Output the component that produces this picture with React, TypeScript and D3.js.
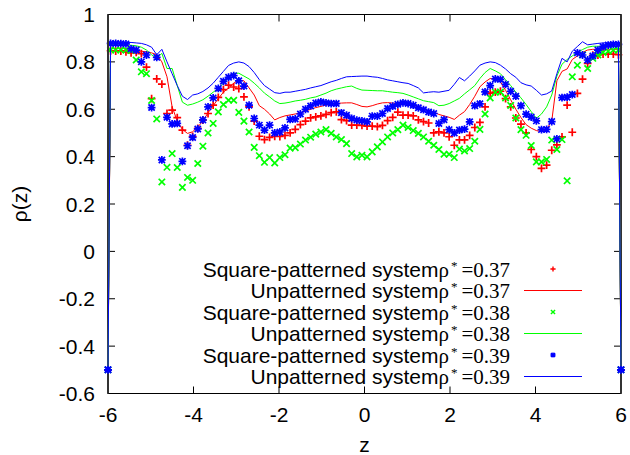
import React from 'react';
import * as d3 from 'd3';

// bin grid: centres at -5.94 + 0.12*i (100 bins), plus edge rows at z = -6 and z = 6
const Z_START = -5.94;
const Z_STEP = 0.12;
const EDGE_Z = [-6, 6];
const EDGE_RHO = -0.5;

// Square-patterned system rho*=0.37 (red +)
const sq037 = [
  0.847, 0.845, 0.845, 0.842, 0.838, 0.84, 0.835, 0.778, 0.645, 0.728,
  0.706, 0.582, 0.596, 0.565, 0.512, 0.448, 0.485, 0.519, 0.554, 0.582,
  0.617, 0.65, 0.683, 0.702, 0.694, 0.687, 0.652, 0.61, 0.55, 0.486,
  0.472, 0.481, 0.486, 0.485, 0.49, 0.5, 0.515, 0.535, 0.55, 0.564,
  0.568, 0.572, 0.578, 0.586, 0.589, 0.556, 0.552, 0.533, 0.533, 0.532,
  0.529, 0.529, 0.527, 0.532, 0.552, 0.566, 0.588, 0.575, 0.575, 0.572,
  0.555, 0.548, 0.542, 0.5, 0.505, 0.5, 0.484, 0.448, 0.471, 0.471,
  0.49, 0.523, 0.545, 0.61, 0.668, 0.672, 0.676, 0.645, 0.61, 0.563,
  0.537, 0.5, 0.43, 0.4, 0.35, 0.364, 0.427, 0.45, 0.483, 0.617,
  0.503, 0.667, 0.727, 0.794, 0.828, 0.829, 0.833, 0.833, 0.833, 0.83,
];

// Unpatterned system rho*=0.37 (red line)
const un037 = [
  0.848, 0.848, 0.848, 0.848, 0.848, 0.846, 0.845, 0.842, 0.838, 0.83,
  0.8, 0.737, 0.61, 0.55, 0.515, 0.498, 0.505, 0.525, 0.55, 0.585,
  0.615, 0.645, 0.672, 0.69, 0.71, 0.723, 0.72, 0.69, 0.66, 0.615,
  0.6, 0.58, 0.555, 0.565, 0.572, 0.576, 0.58, 0.585, 0.592, 0.6,
  0.607, 0.612, 0.618, 0.622, 0.624, 0.626, 0.627, 0.627, 0.62, 0.612,
  0.61, 0.615, 0.622, 0.627, 0.628, 0.626, 0.625, 0.624, 0.622, 0.616,
  0.61, 0.6, 0.594, 0.589, 0.578, 0.572, 0.566, 0.557, 0.575, 0.59,
  0.62, 0.655, 0.695, 0.715, 0.73, 0.725, 0.716, 0.68, 0.64, 0.6,
  0.565, 0.535, 0.52, 0.51, 0.505, 0.515, 0.55, 0.72, 0.76, 0.77,
  0.81, 0.825, 0.84, 0.85, 0.853, 0.853, 0.853, 0.853, 0.853, 0.853,
];

// Square-patterned system rho*=0.38 (green x)
const sq038 = [
  0.85, 0.85, 0.85, 0.85, 0.848, 0.808, 0.758, 0.75, 0.637, 0.559,
  0.293, 0.355, 0.413, 0.354, 0.27, 0.312, 0.3, 0.371, 0.444, 0.5,
  0.54, 0.589, 0.62, 0.638, 0.638, 0.587, 0.55, 0.504, 0.439, 0.404,
  0.376, 0.396, 0.373, 0.396, 0.408, 0.436, 0.438, 0.453, 0.47, 0.482,
  0.495, 0.504, 0.514, 0.498, 0.483, 0.472, 0.455, 0.413, 0.399, 0.406,
  0.399, 0.42, 0.441, 0.462, 0.483, 0.5, 0.514, 0.533, 0.523, 0.51,
  0.498, 0.483, 0.465, 0.448, 0.43, 0.41, 0.41, 0.396, 0.432, 0.424,
  0.434, 0.465, 0.515, 0.58, 0.648, 0.672, 0.673, 0.648, 0.616, 0.563,
  0.514, 0.49, 0.447, 0.378, 0.378, 0.388, 0.47, 0.43, 0.472, 0.298,
  0.737, 0.786, 0.83, 0.772, 0.815, 0.829, 0.84, 0.845, 0.85, 0.85,
];

// Unpatterned system rho*=0.38 (green line)
const un038 = [
  0.872, 0.872, 0.872, 0.872, 0.87, 0.868, 0.862, 0.85, 0.83, 0.815,
  0.836, 0.772, 0.772, 0.7, 0.63, 0.617, 0.622, 0.63, 0.64, 0.655,
  0.672, 0.688, 0.71, 0.735, 0.752, 0.752, 0.74, 0.728, 0.71, 0.69,
  0.668, 0.652, 0.635, 0.624, 0.626, 0.63, 0.635, 0.638, 0.642, 0.648,
  0.652, 0.66, 0.668, 0.678, 0.685, 0.69, 0.695, 0.698, 0.688, 0.681,
  0.68, 0.679, 0.678, 0.678, 0.675, 0.672, 0.67, 0.667, 0.66, 0.652,
  0.644, 0.636, 0.632, 0.628, 0.615, 0.617, 0.624, 0.635, 0.646, 0.665,
  0.682, 0.7, 0.73, 0.755, 0.772, 0.762, 0.75, 0.725, 0.7, 0.672,
  0.648, 0.62, 0.59, 0.562, 0.58, 0.61, 0.66, 0.74, 0.79, 0.81,
  0.825, 0.84, 0.852, 0.862, 0.866, 0.866, 0.866, 0.866, 0.865, 0.864,
];

// Square-patterned system rho*=0.39 (blue *)
const sq039 = [
  0.878, 0.878, 0.877, 0.876, 0.855, 0.85, 0.8, 0.829, 0.607, 0.819,
  0.386, 0.566, 0.538, 0.54, 0.38, 0.446, 0.481, 0.517, 0.555, 0.61,
  0.648, 0.688, 0.718, 0.735, 0.742, 0.72, 0.698, 0.617, 0.561, 0.533,
  0.512, 0.533, 0.5, 0.504, 0.521, 0.557, 0.559, 0.58, 0.6, 0.614,
  0.626, 0.631, 0.627, 0.624, 0.624, 0.585, 0.575, 0.561, 0.554, 0.551,
  0.547, 0.571, 0.571, 0.582, 0.603, 0.613, 0.621, 0.627, 0.624, 0.617,
  0.606, 0.598, 0.588, 0.582, 0.54, 0.556, 0.514, 0.5, 0.512, 0.516,
  0.547, 0.615, 0.623, 0.673, 0.7, 0.728, 0.726, 0.705, 0.676, 0.655,
  0.615, 0.579, 0.567, 0.551, 0.514, 0.515, 0.548, 0.475, 0.649, 0.651,
  0.662, 0.838, 0.829, 0.808, 0.825, 0.85, 0.864, 0.871, 0.874, 0.874,
];

// Unpatterned system rho*=0.39 (blue line)
const un039 = [
  0.878, 0.88, 0.88, 0.882, 0.882, 0.88, 0.878, 0.872, 0.862, 0.83,
  0.853, 0.8, 0.75, 0.7, 0.655, 0.641, 0.66, 0.665, 0.675, 0.69,
  0.71, 0.735, 0.76, 0.785, 0.795, 0.8, 0.795, 0.78, 0.755, 0.725,
  0.7, 0.685, 0.67, 0.667, 0.672, 0.672, 0.676, 0.68, 0.684, 0.69,
  0.695, 0.7, 0.708, 0.716, 0.722, 0.73, 0.737, 0.738, 0.739, 0.74,
  0.74, 0.737, 0.735, 0.73, 0.724, 0.72, 0.716, 0.712, 0.709, 0.7,
  0.69, 0.669, 0.672, 0.674, 0.672, 0.676, 0.68, 0.705, 0.734, 0.72,
  0.74, 0.762, 0.786, 0.795, 0.8, 0.797, 0.786, 0.77, 0.75, 0.735,
  0.712, 0.703, 0.698, 0.68, 0.66, 0.665, 0.677, 0.75, 0.815, 0.8,
  0.845, 0.865, 0.885, 0.872, 0.875, 0.878, 0.88, 0.88, 0.88, 0.878,
];

const X_TICKS = [-6, -4, -2, 0, 2, 4, 6];
const X_TICK_LABELS = ['-6', '-4', '-2', '0', '2', '4', '6'];
const Y_TICKS = [-0.6, -0.4, -0.2, 0, 0.2, 0.4, 0.6, 0.8, 1];
const Y_TICK_LABELS = ['-0.6', '-0.4', '-0.2', '0', '0.2', '0.4', '0.6', '0.8', '1'];

const SERIES_NAMES = [
  'Square-patterned system', 'Unpatterned system',
  'Square-patterned system', 'Unpatterned system',
  'Square-patterned system', 'Unpatterned system',
];
const SERIES_RHO = ['=0.37', '=0.37', '=0.38', '=0.38', '=0.39', '=0.39'];
const SERIES_COLORS = ['#ff0000', '#ff0000', '#00ff00', '#00ff00', '#0000ff', '#0000ff'];
const SERIES_KIND = ['plus', 'line', 'cross', 'line', 'star', 'line'];
const SERIES_DATA = [sq037, un037, sq038, un038, sq039, un039];

const SANS = '"Liberation Sans", Arial, Helvetica, sans-serif';
const SERIF = '"Liberation Serif", "Times New Roman", serif';

function markerPath(kind: string, s: number): string {
  const plus = `M${-s},0H${s}M0,${-s}V${s}`;
  const c = s * 0.8;
  const cross = `M${-c},${-c}L${c},${c}M${-c},${c}L${c},${-c}`;
  if (kind === 'plus') return plus;
  if (kind === 'cross') return cross;
  return plus + cross;
}

export default function App() {
  const W = 630;
  const H = 455;
  const L = 108;
  const R = 621;
  const T = 14.5;
  const B = 393.5;
  const x = d3.scaleLinear().domain([-6, 6]).range([L, R]);
  const y = d3.scaleLinear().domain([-0.6, 1]).range([B, T]);

  const toPts = (vals: number[]) => [
    { z: EDGE_Z[0], v: EDGE_RHO },
    ...vals.map((v, i) => ({ z: Z_START + Z_STEP * i, v })),
    { z: EDGE_Z[1], v: EDGE_RHO },
  ];
  const lineGen = d3
    .line<{ z: number; v: number }>()
    .x((d) => x(d.z))
    .y((d) => y(d.v));

  const tickLen = 7;
  const fs = 21;

  const legendRow0 = 269;
  const legendStep = 21.5;
  const legendTextX = 510;
  const sampleX0 = 524;
  const sampleX1 = 582;

  return (
    <svg
      width={W}
      height={H}
      viewBox={`0 0 ${W} ${H}`}
      style={{ position: 'absolute', left: 0, top: 0, background: '#fff' }}
    >
      <rect x={0} y={0} width={W} height={H} fill="#fff" />

      {/* ticks */}
      <g stroke="#000" strokeWidth={1}>
        {X_TICKS.map((t) => (
          <g key={'xt' + t}>
            <line x1={x(t)} x2={x(t)} y1={B} y2={B - tickLen} />
            <line x1={x(t)} x2={x(t)} y1={T} y2={T + tickLen} />
          </g>
        ))}
        {Y_TICKS.map((t) => (
          <g key={'yt' + t}>
            <line x1={L} x2={L + tickLen} y1={y(t)} y2={y(t)} />
            <line x1={R} x2={R - tickLen} y1={y(t)} y2={y(t)} />
          </g>
        ))}
      </g>

      {/* tick labels */}
      <g fontFamily={SANS} fontSize={fs} fill="#000">
        {X_TICKS.map((t, i) => (
          <text key={'xl' + t} x={x(t)} y={421.5} textAnchor="middle">
            {X_TICK_LABELS[i]}
          </text>
        ))}
        {Y_TICKS.map((t, i) => (
          <text key={'yl' + t} x={95} y={y(t) + 7.5} textAnchor="end">
            {Y_TICK_LABELS[i]}
          </text>
        ))}
        <text x={x(0)} y={452} textAnchor="middle">z</text>
        <text transform={`translate(27,${(T + B) / 2}) rotate(-90)`} textAnchor="middle">
          ρ(z)
        </text>
      </g>

      {/* data */}
      {SERIES_DATA.map((vals, si) => {
        const pts = toPts(vals);
        const color = SERIES_COLORS[si];
        const kind = SERIES_KIND[si];
        if (kind === 'line') {
          return (
            <path
              key={'s' + si}
              d={lineGen(pts) || ''}
              fill="none"
              stroke={color}
              strokeWidth={1}
            />
          );
        }
        const size = kind === 'cross' ? 4 : 3.9;
        const d = markerPath(kind, size);
        return (
          <g key={'s' + si} stroke={color} strokeWidth={1.7} fill="none">
            {pts.map((p, i) => (
              <path key={i} transform={`translate(${x(p.z)},${y(p.v)})`} d={d} />
            ))}
          </g>
        );
      })}

      {/* border */}
      <rect x={L} y={T} width={R - L} height={B - T} fill="none" stroke="#000" strokeWidth={1} />
      <line x1={L} x2={L} y1={T} y2={B} stroke="#333" strokeWidth={2} />
      <line x1={R} x2={R} y1={T} y2={B} stroke="#333" strokeWidth={2} />
      {/* redraw edge data over the border */}
      {SERIES_DATA.map((vals, si) => {
        if (SERIES_KIND[si] !== 'line') return null;
        const pts = toPts(vals);
        return (
          <g key={'e' + si} stroke={SERIES_COLORS[si]} strokeWidth={1} fill="none">
            <path d={lineGen(pts.slice(0, 2)) || ''} />
            <path d={lineGen(pts.slice(-2)) || ''} />
          </g>
        );
      })}
      {EDGE_Z.map((z) => (
        <path
          key={'edge' + z}
          transform={`translate(${x(z)},${y(EDGE_RHO)})`}
          d={markerPath('star', 3.9)}
          stroke="#0000ff"
          strokeWidth={1.7}
          fill="none"
        />
      ))}

      {/* legend */}
      {SERIES_NAMES.map((name, i) => {
        const cy = legendRow0 + legendStep * i;
        const color = SERIES_COLORS[i];
        const kind = SERIES_KIND[i];
        return (
          <g key={'lg' + i}>
            <text x={legendTextX} y={cy + 7.5} textAnchor="end" fontSize={fs} fill="#000">
              <tspan fontFamily={SANS}>{name}</tspan>
              <tspan fontFamily={SERIF}>ρ</tspan>
              <tspan fontFamily={SERIF} fontSize={13} dx={2} dy={-7}>*</tspan>
              <tspan fontFamily={SERIF} dx={4} dy={7}>{SERIES_RHO[i]}</tspan>
            </text>
            {kind === 'line' ? (
              <line x1={sampleX0} x2={sampleX1} y1={cy} y2={cy} stroke={color} strokeWidth={1} />
            ) : (
              <path
                transform={`translate(${(sampleX0 + sampleX1) / 2},${cy})`}
                d={markerPath(kind, 2.6)}
                stroke={color}
                strokeWidth={1.4}
                fill="none"
              />
            )}
          </g>
        );
      })}
    </svg>
  );
}
